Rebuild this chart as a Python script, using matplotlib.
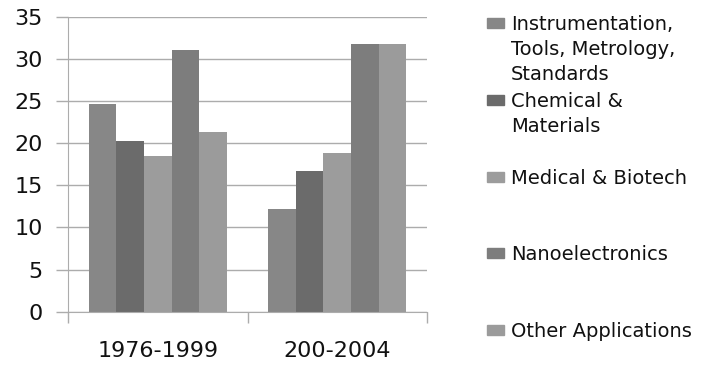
import numpy as np
import matplotlib.pyplot as plt
from matplotlib.patches import Rectangle

periods = ['1976-1999', '200-2004']
series = [
    'Instrumentation,\nTools, Metrology,\nStandards',
    'Chemical &\nMaterials',
    'Medical & Biotech',
    'Nanoelectronics',
    'Other Applications',
]
values = [
    [24.6, 12.2],
    [20.2, 16.7],
    [18.5, 18.8],
    [31.0, 31.8],
    [21.3, 31.8],
]
colors = ['#878787', '#6b6b6b', '#9c9c9c', '#7d7d7d', '#9b9b9b']

W, H = 726, 365
fig = plt.figure(figsize=(W / 100, H / 100), dpi=100)
ax = fig.add_axes([68 / W, 53.3 / H, (427 - 68) / W, (311.7 - 16.7) / H])

grid_col = '#acacac'
bar_w = 0.154
x = np.arange(len(periods))
for i, (vals, c) in enumerate(zip(values, colors)):
    ax.bar(x + (i - 2) * bar_w, vals, bar_w, color=c, zorder=2)

ax.set_xlim(-0.5, 1.5)
ax.set_ylim(0, 35)
ax.set_yticks(np.arange(0, 36, 5))
ax.grid(axis='y', color=grid_col, lw=1, zorder=0)
for s in ['top', 'right']:
    ax.spines[s].set_visible(False)
for s in ['left', 'bottom']:
    ax.spines[s].set_color(grid_col)
ax.tick_params(axis='y', length=9, width=1, color=grid_col, pad=9,
               labelsize=16, labelcolor='#111111')

# period labels centred, tick marks on the category boundaries
ax.set_xticks(x)
ax.set_xticklabels(periods)
ax.set_xticks([-0.5, 0.5, 1.5], minor=True)
ax.tick_params(axis='x', which='major', length=0, pad=21, labelsize=16,
               labelcolor='#111111')
ax.tick_params(axis='x', which='minor', length=8, width=1, color=grid_col)

# legend: square key and wrapped label, one row every ~77 px
line_h = 25
for name, c, yc in zip(series, colors, np.linspace(23, 330, len(series))):
    fig.patches.append(Rectangle((487 / W, 1 - (yc + 5) / H), 17 / W, 10 / H,
                                 color=c, transform=fig.transFigure, figure=fig))
    for k, line in enumerate(name.split('\n')):
        fig.text(511 / W, 1 - (yc + 7 + k * line_h) / H, line, fontsize=14,
                 color='#111111', va='baseline', ha='left')

fig.savefig('out.png', dpi=100)
